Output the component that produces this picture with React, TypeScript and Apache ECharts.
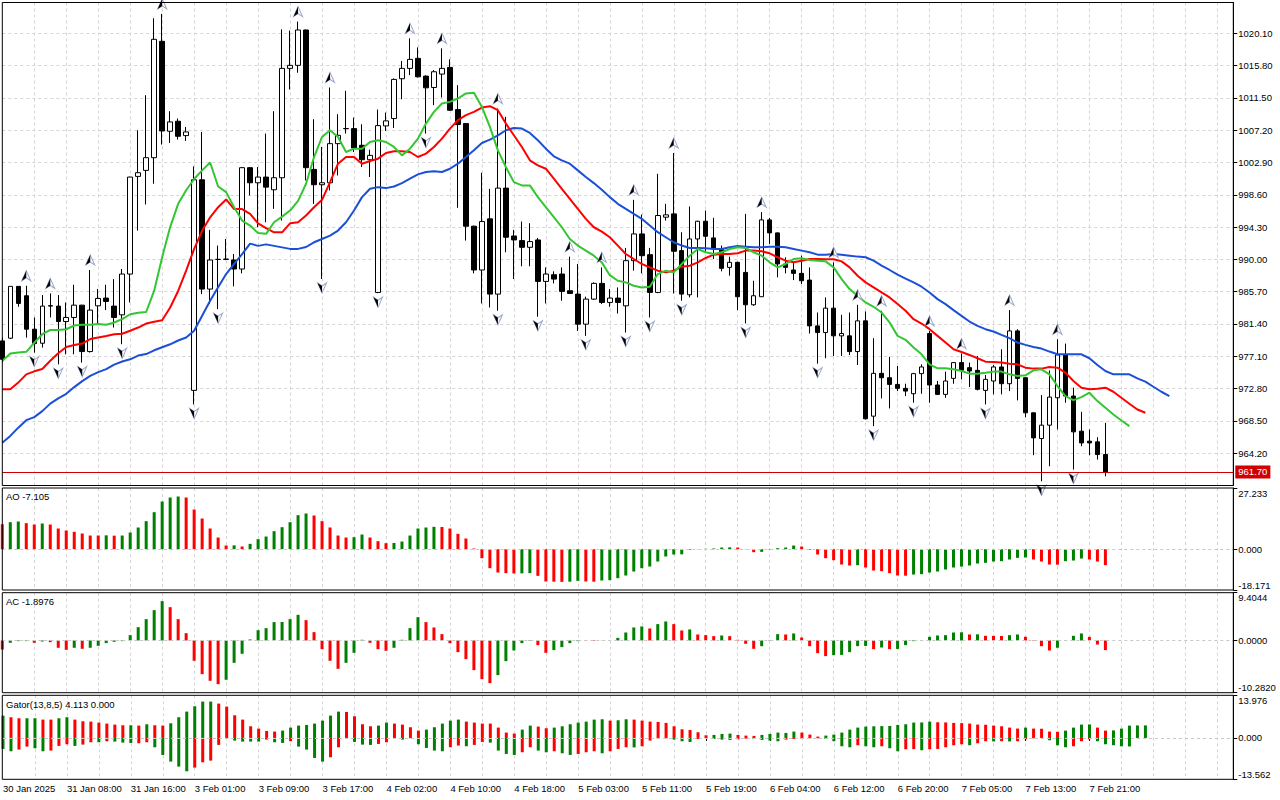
import React, { useEffect, useRef } from "react";
import * as echarts from "echarts";

// ---------- data ----------
const tickLabels = [
  "30 Jan 2025", "31 Jan 08:00", "31 Jan 16:00", "3 Feb 01:00", "3 Feb 09:00", "3 Feb 17:00",
  "4 Feb 02:00", "4 Feb 10:00", "4 Feb 18:00", "5 Feb 03:00", "5 Feb 11:00", "5 Feb 19:00",
  "6 Feb 04:00", "6 Feb 12:00", "6 Feb 20:00", "7 Feb 05:00", "7 Feb 13:00", "7 Feb 21:00",
];

const openPrices = [
  979.15, 979.51, 986.41, 985.16, 980.71, 978.84, 983.78, 983.78, 981.73, 982.27,
  983.91, 977.73, 983.82, 984.85, 983.78, 982.62, 988.05, 1001.05, 1001.85, 1003.54,
  1019.03, 1007.06, 1008.39, 1006.48, 972.56, 1000.6, 986.05, 990.0, 990.0, 989.92,
  988.72, 1002.21, 1000.2, 1000.96, 999.27, 1000.87, 1015.43, 1015.83, 1020.54, 1001.98,
  999.94, 1000.2, 1005.41, 1007.4, 1007.41, 1005.19, 1003.27, 985.6, 1007.77, 1008.75,
  1014.05, 1015.43, 1016.76, 1014.4, 1012.89, 1014.67, 1015.56, 1009.95, 1008.08, 994.42,
  988.59, 995.4, 985.38, 999.49, 993.12, 992.5, 991.61, 992.59, 987.07, 987.96,
  988.05, 985.83, 985.38, 981.38, 984.71, 986.81, 984.27, 984.85, 983.82, 989.83,
  993.39, 990.63, 985.6, 995.62, 996.06, 991.17, 985.29, 992.72, 995.08, 992.86,
  991.39, 988.94, 989.61, 988.27, 983.96, 985.03, 995.26, 993.53, 989.39, 988.59,
  988.14, 987.25, 981.15, 980.26, 983.51, 979.82, 979.82, 977.73, 981.82, 969.13,
  974.83, 974.25, 973.36, 972.83, 972.12, 974.79, 980.13, 973.28, 972.03, 974.16,
  976.26, 975.59, 975.23, 972.56, 973.81, 975.68, 973.45, 980.48, 974.25, 969.58,
  966.15, 967.93, 971.58, 977.28, 971.81, 967.13, 965.8, 965.71, 964.02,
];
const closePrices = [
  976.7, 986.41, 984.14, 980.71, 978.79, 983.78, 983.85, 981.73, 982.27, 983.91,
  977.73, 983.25, 984.8, 984.4, 982.27, 988.05, 1000.96, 1001.54, 1003.54, 1019.3,
  1007.1, 1008.3, 1006.39, 1006.97, 1000.6, 986.05, 989.92, 990.0, 990.05, 988.72,
  1002.21, 1000.2, 1000.96, 999.62, 1000.87, 1015.43, 1015.83, 1020.54, 1002.21, 999.94,
  1000.2, 1005.41, 1006.52, 1007.42, 1004.83, 1003.27, 1003.85, 1007.81, 1008.44, 1013.96,
  1015.43, 1016.63, 1014.31, 1012.84, 1014.98, 1015.43, 1009.86, 1007.95, 994.42, 988.59,
  995.04, 985.38, 999.49, 992.95, 992.59, 991.61, 992.37, 987.07, 988.05, 987.38,
  985.74, 985.47, 981.38, 984.71, 986.81, 984.27, 984.85, 984.27, 989.83, 993.39,
  990.5, 985.6, 995.84, 995.93, 991.08, 985.38, 992.72, 995.08, 993.08, 991.39,
  988.81, 989.61, 985.03, 983.96, 985.16, 995.26, 993.53, 989.39, 988.94, 988.14,
  987.16, 981.15, 980.26, 983.51, 979.82, 980.13, 977.73, 981.82, 968.78, 974.83,
  974.25, 973.36, 972.83, 972.47, 974.79, 975.68, 973.28, 972.03, 973.81, 976.26,
  975.23, 975.14, 972.7, 974.03, 975.68, 973.45, 980.48, 974.16, 969.58, 966.24,
  967.93, 971.67, 977.28, 971.81, 967.04, 965.57, 965.57, 964.02, 961.7,
];
const lowPrices = [
  976.3, 979.4, 983.69, 979.59, 977.59, 978.26, 982.27, 976.03, 977.37, 977.37,
  976.26, 977.6, 981.38, 983.25, 980.93, 978.71, 984.27, 993.84, 997.31, 1000.07,
  1005.28, 1005.5, 1005.95, 1005.77, 970.69, 985.38, 984.05, 983.38, 989.9, 986.41,
  988.14, 998.51, 994.28, 994.95, 996.73, 995.17, 1012.62, 1014.85, 1000.51, 997.4,
  987.4, 999.18, 1001.18, 1006.75, 1004.3, 1002.3, 1000.96, 985.5, 1007.1, 1007.5,
  1011.33, 1014.54, 1014.2, 1006.75, 1010.53, 1011.55, 1009.8, 996.87, 992.5, 988.14,
  984.14, 983.6, 983.16, 990.95, 987.38, 989.08, 989.08, 982.36, 984.14, 986.8,
  984.49, 985.4, 980.48, 979.82, 984.6, 984.05, 983.69, 982.8, 980.26, 988.5,
  988.14, 982.27, 985.5, 995.17, 985.47, 984.49, 984.94, 984.94, 991.08, 990.05,
  988.41, 987.83, 983.25, 981.47, 983.82, 985.0, 992.06, 987.61, 988.14, 987.25,
  986.72, 980.13, 976.12, 976.84, 977.15, 977.15, 977.28, 975.94, 968.69, 967.8,
  971.49, 970.16, 972.47, 971.8, 970.92, 972.12, 970.92, 971.94, 971.58, 973.45,
  974.03, 973.01, 972.56, 970.69, 972.03, 972.03, 972.47, 971.23, 969.0, 963.93,
  960.46, 962.46, 967.36, 970.92, 962.02, 965.13, 963.93, 963.35, 961.12,
];
const highPrices = [
  979.6, 986.41, 986.41, 986.49, 982.27, 985.25, 985.47, 985.25, 984.27, 986.63,
  983.95, 988.59, 986.05, 986.63, 987.38, 988.72, 1001.0, 1007.19, 1011.86, 1022.1,
  1022.68, 1009.73, 1008.75, 1007.64, 1002.38, 1006.97, 993.93, 991.84, 992.72, 990.72,
  1002.3, 1002.3, 1002.3, 1006.75, 1009.73, 1020.63, 1020.46, 1021.66, 1020.6, 1008.66,
  1004.97, 1012.89, 1009.33, 1012.44, 1008.88, 1007.99, 1004.61, 1009.95, 1009.55, 1014.09,
  1016.4, 1019.43, 1018.23, 1014.5, 1015.2, 1018.1, 1016.63, 1013.2, 1008.1, 994.5,
  1001.54, 999.4, 1010.08, 1008.97, 993.93, 995.04, 994.82, 992.86, 988.94, 988.41,
  988.94, 990.37, 989.39, 985.03, 986.94, 988.94, 986.05, 986.27, 991.53, 997.93,
  995.97, 991.53, 1001.4, 997.4, 1004.16, 993.62, 997.04, 995.15, 996.51, 995.53,
  991.84, 990.37, 989.7, 996.06, 987.16, 996.29, 995.53, 993.6, 990.28, 989.61,
  990.5, 988.94, 982.93, 984.94, 989.61, 982.62, 982.93, 983.96, 983.07, 979.51,
  983.16, 977.02, 975.81, 973.45, 974.9, 976.03, 980.48, 973.81, 975.06, 976.3,
  977.46, 976.26, 977.15, 974.61, 975.94, 978.04, 983.25, 980.71, 974.3, 969.6,
  971.94, 975.23, 979.37, 978.79, 972.92, 969.71, 967.36, 966.33, 968.24,
];

// Alligator lines (already shifted forward as drawn)
const lipsLine = [
  976.48, 977.46, 977.6, 977.7, 978.9, 980.04, 980.6, 980.6, 980.7, 981.2,
  981.3, 981.3, 981.4, 981.3, 981.6, 982.04, 982.7, 982.9, 983.0, 985.83,
  990.3, 994.3, 997.4, 999.2, 1000.7, 1001.85, 1002.9, 999.7, 998.96, 996.95,
  995.17, 994.5, 993.5, 993.4, 994.95, 995.7, 996.5, 997.8, 1000.07, 1003.63,
  1006.3, 1007.2, 1006.3, 1004.3, 1004.74, 1004.74, 1005.63, 1005.86, 1005.63, 1004.97,
  1003.85, 1004.74, 1006.08, 1008.08, 1009.64, 1010.75, 1010.97, 1011.42, 1012.09, 1012.18,
  1010.3, 1007.64, 1004.52, 1002.3, 1000.29, 999.85, 999.85, 998.29, 996.95, 995.62,
  994.28, 992.72, 991.84, 991.17, 990.5, 989.6, 987.9, 987.16, 986.94, 986.49,
  986.27, 986.36, 988.05, 988.5, 988.27, 989.39, 990.5, 991.39, 990.95, 990.72,
  990.95, 991.39, 991.61, 991.52, 990.95, 990.5, 989.61, 988.94, 989.39, 990.05,
  990.14, 989.92, 989.83, 989.74, 988.94, 987.38, 986.05, 985.16, 984.27, 983.69,
  982.93, 981.6, 979.82, 979.3, 978.26, 977.37, 976.03, 975.5, 975.5, 975.37,
  975.14, 974.79, 974.79, 974.92, 975.06, 975.06, 974.7, 974.48, 974.57, 975.23,
  975.37, 974.7, 973.14, 971.81, 971.27, 971.67, 972.25, 971.14, 970.25, 969.36,
  968.56, 967.8,
];
const teethLine = [
  972.7, 972.7, 973.6, 974.7, 975.1, 975.4, 976.5, 977.5, 978.35, 978.6,
  978.8, 979.4, 979.6, 979.8, 980.04, 980.1, 980.5, 980.93, 981.46, 981.7,
  981.9, 983.6, 985.8, 988.5, 991.4, 993.8, 995.6, 996.95, 997.98, 996.7,
  996.7, 996.06, 994.8, 994.15, 993.6, 993.6, 994.8, 994.95, 995.84, 996.95,
  997.93, 1000.29, 1002.74, 1003.63, 1003.63, 1002.74, 1003.1, 1003.41, 1004.16, 1004.39,
  1004.39, 1004.3, 1003.63, 1004.08, 1004.97, 1006.08, 1007.41, 1008.53, 1009.2, 1009.64,
  1010.22, 1010.4, 1009.86, 1008.08, 1006.52, 1004.97, 1003.19, 1002.52, 1002.07, 1000.74,
  999.4, 998.07, 996.73, 995.4, 994.28, 993.7, 992.95, 991.84, 990.72, 990.05,
  989.39, 988.94, 988.5, 988.27, 988.5, 989.03, 989.16, 989.61, 990.19, 990.63,
  990.72, 990.72, 990.81, 991.17, 991.17, 991.08, 990.81, 990.28, 989.83, 989.61,
  989.83, 990.05, 990.05, 990.01, 990.01, 989.74, 988.94, 987.83, 986.94, 986.27,
  985.6, 984.94, 984.05, 983.16, 982.04, 981.46, 980.71, 979.82, 978.93, 978.04,
  977.68, 977.28, 976.84, 976.39, 976.35, 976.26, 976.12, 976.03, 975.59, 975.46,
  975.46, 975.68, 975.59, 974.92, 973.81, 972.92, 972.7, 972.79, 972.92, 972.38,
  971.58, 970.78, 970.02, 969.58,
];
const jawLine = [
  965.6, 966.5, 967.6, 968.6, 969.0, 969.8, 970.8, 971.5, 972.1, 973.0,
  973.8, 974.5, 975.0, 975.4, 976.0, 976.4, 976.7, 977.2, 977.4, 977.9,
  978.3, 978.7, 979.2, 979.6, 980.5, 982.5, 984.5, 986.3, 988.05, 989.4,
  990.7, 992.1, 991.8, 992.0, 991.8, 991.6, 991.4, 991.4, 991.65, 992.28,
  992.72, 993.17, 993.84, 994.95, 996.51, 998.29, 999.4, 999.62, 999.49, 999.71,
  1000.16, 1000.74, 1001.32, 1001.63, 1001.72, 1001.63, 1002.07, 1002.74, 1003.63, 1004.52,
  1005.5, 1005.94, 1006.52, 1007.19, 1007.5, 1007.41, 1006.83, 1005.86, 1004.74, 1003.72,
  1003.19, 1002.74, 1001.85, 1000.96, 1000.16, 999.27, 998.29, 997.4, 996.73, 996.06,
  995.4, 994.5, 993.62, 992.95, 992.28, 991.84, 991.52, 991.52, 991.48, 991.39,
  991.39, 991.61, 991.79, 991.7, 991.61, 991.61, 991.7, 991.7, 991.61, 991.39,
  991.17, 990.95, 990.63, 990.63, 990.72, 990.63, 990.5, 990.37, 990.28, 989.83,
  989.16, 988.59, 987.96, 987.45, 986.94, 986.36, 985.6, 984.71, 984.05, 983.25,
  982.49, 981.73, 981.15, 980.71, 980.4, 979.95, 979.51, 978.93, 978.62, 978.35,
  978.13, 977.73, 977.37, 977.37, 977.37, 977.37, 976.84, 975.94, 975.14, 974.7,
  974.7, 974.7, 974.16, 973.72, 973.05, 972.38, 971.81,
];

const upFractals = [3, 6, 11, 20, 37, 41, 51, 55, 62, 71, 75, 79, 84, 95, 104, 107, 110, 116, 120, 126, 132];
const downFractals = [4, 7, 10, 15, 24, 27, 40, 47, 53, 62, 67, 73, 78, 81, 85, 93, 102, 109, 114, 123, 130, 134];

const aoValues = [
  11.13, 12.02, 12.32, 11.58, 10.98, 11.43, 10.98, 9.2, 8.31, 7.72,
  6.97, 6.08, 6.08, 6.16, 6.01, 6.08, 7.42, 9.65, 12.47, 16.47,
  21.22, 23.0, 23.45, 23.0, 17.66, 13.65, 9.2, 5.19, 1.63, 1.71,
  1.19, 2.37, 4.45, 5.64, 8.01, 9.79, 12.02, 15.14, 15.88, 14.99,
  12.47, 9.65, 6.08, 5.19, 5.34, 6.53, 5.19, 3.56, 2.67, 2.75,
  3.41, 6.08, 9.2, 9.65, 9.94, 9.87, 9.2, 6.83, 4.75, 0.3,
  -4.01, -8.46, -10.39, -10.68, -10.83, -10.76, -10.68, -11.87, -14.39, -14.47,
  -14.54, -14.47, -14.1, -14.39, -14.47, -13.95, -13.8, -12.91, -11.72, -9.94,
  -8.46, -7.72, -5.49, -3.26, -2.37, -2.3, -0.3, 0.07, 0.15, 0.3,
  0.74, 0.82, 0.74, 0.07, -1.34, -1.19, -0.15, 0.45, 0.74, 1.63,
  1.19, -0.3, -2.37, -4.01, -4.9, -6.83, -7.27, -7.12, -8.16, -9.5,
  -9.79, -10.68, -11.72, -11.8, -11.28, -11.13, -10.39, -9.94, -9.05, -8.16,
  -7.72, -7.27, -6.38, -6.08, -5.49, -5.34, -4.6, -3.86, -3.71, -4.6,
  -5.49, -6.83, -6.9, -5.34, -5.05, -4.16, -4.6, -5.49, -7.105,
];
const aoColors =
  "rggrrgrrrr" + "rrrgrggggg" + "gggrrrrrrg" + "rggggggggr" + "rrrrggrrrg" +
  "gggggrrrrr" + "rrrrrggrrr" + "rggrrggggg" + "gggggggggg" + "ggrrrggggg" +
  "rrrrrrrgrr" + "rrrrgggggg" + "gggggggggr" + "rrrgggrrr";

const acValues = [
  -1.77, -0.46, -0.13, -0.12, -0.46, -0.2, -0.33, -1.44, -1.84, -1.44,
  -1.64, -1.44, -1.05, -0.52, -0.26, -0.13, 1.05, 2.62, 4.2, 5.97,
  7.74, 6.56, 4.2, 1.44, -4.0, -6.63, -7.94, -8.6, -7.74, -4.4,
  -2.62, 0.2, 2.03, 2.43, 3.61, 3.64, 4.2, 5.05, 4.0, 1.64,
  -1.71, -4.0, -5.58, -4.4, -2.43, 0.13, -0.46, -1.71, -2.03, -1.44,
  0.13, 2.43, 4.59, 3.61, 2.56, 1.25, -0.52, -2.3, -3.67, -5.84,
  -7.61, -8.4, -6.82, -4.07, -1.97, -0.52, 0.1, -0.92, -2.43, -1.9,
  -1.31, -0.52, -0.13, -0.07, -0.1, 0.03, 0.02, 0.52, 1.57, 2.56,
  2.76, 2.36, 3.22, 3.74, 3.22, 1.97, 2.17, 1.18, 1.05, 0.85,
  0.98, 0.85, 0.13, -0.66, -1.64, -1.12, -0.07, 1.25, 1.18,
  1.38, 0.59, -1.12, -2.49, -3.08, -2.89, -2.85, -2.3, -1.12, -1.08,
  -1.71, -1.38, -1.71, -1.67, -0.92, -0.13, -0.07, 0.72, 0.98, 1.05,
  1.57, 1.61, 1.18, 1.21, 0.92, 0.91, 0.89, 1.05, 1.18, 0.72,
  -0.07, -1.12, -1.97, -1.44, 0.07, 0.92, 1.38, 0.72, -0.79, -1.8976,
];
const acColors =
  "rgggrgrrrg" + "rggggggggg" + "grrrrrrrgg" + "ggggggggrr" + "rrrgggrrrg" +
  "gggrrrrrrr" + "rrgggggrrg" + "gggrrgrggg" + "grggrrgrrr" + "grrrrgggr" +
  "grrrrggggg" + "rgrggggggg" + "ggrgrrrggr" + "rrrggggrrr";

const gatorUpper = [
  7.32, 6.78, 6.45, 6.45, 6.45, 6.01, 6.01, 6.45, 6.78, 6.01,
  5.46, 5.35, 5.03, 4.7, 4.37, 4.15, 4.15, 4.04, 4.48, 4.15,
  4.04, 4.81, 6.78, 8.63, 10.38, 11.91, 11.91, 11.26, 10.27, 7.43,
  6.01, 3.82, 3.06, 2.29, 2.08, 2.4, 3.39, 4.04, 4.26, 4.7,
  5.68, 7.32, 8.63, 8.52, 7.1, 4.48, 3.82, 4.04, 5.03, 4.7,
  4.37, 3.5, 2.4, 2.73, 3.5, 4.7, 5.68, 6.01, 5.35, 5.03,
  4.7, 4.7, 3.39, 1.75, 1.42, 2.73, 4.04, 3.72, 3.17, 3.39,
  3.82, 4.48, 5.03, 5.35, 6.01, 6.12, 5.68, 5.79, 6.12, 6.01,
  5.68, 5.35, 5.25, 4.92, 3.82, 2.84, 2.62, 1.86, 0.87, 0.98,
  1.31, 1.42, 0.98, 0.76, 0.66, 0.98, 1.31, 1.75, 1.64,
  2.08, 1.75, 1.09, 0.44, 0.76, 1.09, 1.75, 2.73, 3.39, 3.72,
  3.82, 3.88, 3.93, 4.26, 4.48, 5.03, 5.08, 5.35, 5.14, 5.08,
  4.92, 4.86, 4.7, 4.37, 4.32, 4.04, 3.82, 3.39, 3.06, 3.39,
  3.06, 3.01, 2.08, 2.02, 2.4, 3.39, 4.37, 4.43, 3.39, 2.4,
  2.46, 3.06, 4.04, 4.1, 4.113,
];
const gatorUpperColors =
  "grrggrrggr" + "rrrrrrgrgr" + "rggggggrrr" + "rrrrrggggg" + "gggrrrrggr" +
  "rrrgggggrr" + "rrrrrggrrg" + "ggggggrggr" + "rrrrrrrrrg" + "ggrrrgggg" +
  "grrrgggggg" + "ggggggggrr" + "rrrrrrrrrg" + "rrrrggggrr" + "ggggg";

const gatorLower = [
  -3.61, -4.37, -3.82, -2.84, -3.39, -4.37, -4.15, -2.62, -2.08, -2.62,
  -2.19, -1.42, -1.42, -1.09, -1.2, -1.53, -1.64, -1.75, -1.42, -3.06,
  -5.57, -7.76, -9.4, -10.93, -9.73, -7.98, -7.43, -2.29, -0.33, -0.87,
  -1.2, -1.2, -1.2, -0.55, -1.42, -1.64, -1.09, -2.84, -3.82, -6.56,
  -7.76, -6.34, -3.06, -0.33, -1.31, -2.19, -2.29, -1.97, -1.42, -0.33,
  -0.55, -0.11, -2.08, -3.28, -4.15, -4.37, -3.06, -2.51, -2.73, -2.29,
  -1.31, -1.53, -4.15, -5.25, -5.57, -4.7, -3.06, -4.15, -4.7, -4.37,
  -5.03, -5.57, -5.25, -4.7, -4.37, -5.03, -4.37, -3.61, -3.06, -3.11,
  -2.73, -0.87, -0.22, -0.11, -0.55, -1.09, -1.31, -0.33, -0.11, -0.33,
  -0.55, -0.66, -0.44, -0.22, -0.33, -0.66, -0.87, -1.09, -0.55,
  -0.33, -0.22, -0.11, -0.11, -0.33, -1.09, -2.73, -3.06, -2.4, -2.73,
  -3.06, -2.73, -3.39, -4.37, -3.72, -3.66, -4.04, -3.72, -3.61, -3.06,
  -2.4, -2.08, -2.4, -1.75, -1.09, -1.15, -1.09, -1.15, -1.09, -0.44,
  -0.11, -0.05, -0.76, -2.4, -3.06, -2.73, -1.09, -0.44, -1.09, -2.08,
  -2.4, -2.73, -2.79, -0.05, 0,
];
const gatorLowerColors =
  "ggrrggrrrg" + "rrgrgggrrg" + "ggggrrrrrg" + "gggrggrggg" + "grrrgggrrr" +
  "grggggrrgr" + "rggggrrggr" + "ggrrrgrrrg" + "rrrrgggrrg" + "ggrrggggr" +
  "rrrrggggrg" + "grggrrgrrr" + "rrgrrgrgrr" + "rrgggrrrgg" + "gggrr";

const priceAxis = { min: 959.9, max: 1024.2, step: 4.3 };
const aoAxisLabels = [-18.171, 0, 27.233];
const acAxisLabels = [-10.282, 0, 9.4044];
const gatorAxisLabels = [-13.562, 0, 13.976];

// ---------- styling ----------
const SLOTS = 155;
const FONT = '"Liberation Sans", Arial, sans-serif';
const GREEN = "#008000";
const RED = "#ff0000";
const GRID_LINE = "#d4d4d4";
const UP_ARROW = "path://M5,0 L10,10 L5,7 L0,10 Z";
const UP_ARROW_HALF = "path://M5,0 L5,7 L0,10 Z";
const DOWN_ARROW = "path://M0,0 L5,3 L10,0 L5,10 Z";
const DOWN_ARROW_HALF = "path://M0,0 L5,3 L5,10 Z";

function colored(values: number[], codes: string) {
  return values.map((v, i) => ({ value: v, itemStyle: { color: codes[i] === "g" ? GREEN : RED } }));
}

export default function App() {
  const ref = useRef<HTMLDivElement>(null);

  useEffect(() => {
    if (!ref.current) return;
    const chart = echarts.init(ref.current, null, { renderer: "svg" });
    const categories = Array.from({ length: SLOTS }, (_, i) => String(i));
    const labelEvery = (i: number) => i % 8 === 0 && i / 8 < tickLabels.length;
    const left = 2.3;
    const width = 1231;
    const gridBoxes = [
      { top: 2.5, height: 483 },
      { top: 488, height: 102 },
      { top: 592.7, height: 100 },
      { top: 695.3, height: 84 },
    ];
    const grid = gridBoxes.map((g) => ({
      left, width, top: g.top, height: g.height,
      show: true, borderWidth: 0, backgroundColor: "#fff",
    }));
    const xAxis = gridBoxes.map((_, gi) => ({
      type: "category",
      gridIndex: gi,
      data: categories,
      boundaryGap: false,
      axisLine: { show: false },
      axisTick: { show: gi === 3, interval: labelEvery, length: 3, lineStyle: { color: "#000" } },
      axisLabel: {
        show: gi === 3,
        interval: labelEvery,
        formatter: (v: string) => tickLabels[Number(v) / 8] ?? "",
        align: "left",
        margin: 4,
        color: "#000",
        fontSize: 9.5,
        fontFamily: FONT,
      },
      splitLine: {
        show: true,
        interval: (i: number) => i % 4 === 0 && i > 0,
        lineStyle: { color: GRID_LINE, type: [3, 3], width: 1 },
      },
    }));

    const axisCommon = {
      type: "value",
      position: "right",
      axisLine: { show: true, lineStyle: { color: "#000" } },
    };
    const labelCommon = { color: "#000", fontSize: 9.5, fontFamily: FONT, margin: 5 };
    const indicatorAxis = (gi: number, vals: number[], digits: number) => ({
      ...axisCommon,
      gridIndex: gi,
      min: vals[0],
      max: vals[2],
      axisTick: { show: true, length: 4, customValues: vals, lineStyle: { color: "#000" } },
      axisLabel: {
        ...labelCommon,
        customValues: vals,
        formatter: (v: number) => v.toFixed(digits),
        verticalAlignMinLabel: "bottom",
        verticalAlignMaxLabel: "top",
      },
      splitLine: { show: false },
    });
    const yAxis = [
      {
        ...axisCommon,
        gridIndex: 0,
        min: priceAxis.min,
        max: priceAxis.max,
        interval: priceAxis.step,
        axisTick: { show: true, length: 4, lineStyle: { color: "#000" } },
        axisLabel: {
          ...labelCommon,
          formatter: (v: number) => v.toFixed(2),
          showMinLabel: false,
          showMaxLabel: false,
        },
        splitLine: { show: true, lineStyle: { color: GRID_LINE, type: [3, 3], width: 1 } },
      },
      indicatorAxis(1, aoAxisLabels, 3),
      indicatorAxis(2, acAxisLabels, 4),
      indicatorAxis(3, gatorAxisLabels, 3),
    ];

    const zeroLine = {
      silent: true,
      symbol: "none",
      data: [{ yAxis: 0 }],
      lineStyle: { color: "#c8c8c8", type: [3, 3], width: 1 },
      label: { show: false },
    };
    const lastClose = closePrices[closePrices.length - 1];

    const fractalSeries = (
      idx: number[], prices: number[], full: string, half: string, dy: number,
    ) => [
      {
        type: "scatter", xAxisIndex: 0, yAxisIndex: 0, z: 4, silent: true,
        data: idx.map((k) => [k, prices[k]]),
        symbol: full, symbolSize: [9, 10], symbolOffset: [0, dy],
        itemStyle: { color: "#ffffff", borderColor: "#9aa6cc", borderWidth: 1, opacity: 1 },
      },
      {
        type: "scatter", xAxisIndex: 0, yAxisIndex: 0, z: 5, silent: true,
        data: idx.map((k) => [k, prices[k]]),
        symbol: half, symbolSize: [4.5, 10], symbolOffset: [-2.25, dy],
        itemStyle: { color: "#000000", opacity: 1 },
      },
    ];

    const series: any[] = [
      {
        type: "candlestick",
        xAxisIndex: 0,
        yAxisIndex: 0,
        barWidth: 5,
        data: openPrices.map((o, i) => [o, closePrices[i], lowPrices[i], highPrices[i]]),
        itemStyle: {
          color: "#ffffff",
          color0: "#000000",
          borderColor: "#000000",
          borderColor0: "#000000",
          borderColorDoji: "#000000",
          borderWidth: 1,
        },
        markLine: {
          silent: true,
          symbol: "none",
          data: [{ yAxis: lastClose }],
          lineStyle: { color: "#c80000", type: "solid", width: 1 },
          label: {
            position: "end",
            distance: 2,
            formatter: () => lastClose.toFixed(2),
            color: "#ffffff",
            backgroundColor: "#d00000",
            padding: [2, 3, 1, 3],
            fontSize: 9.5,
            fontFamily: FONT,
          },
        },
      },
      {
        type: "line", xAxisIndex: 0, yAxisIndex: 0, data: jawLine, showSymbol: false, symbol: "none",
        lineStyle: { color: "#1a4fd6", width: 2 }, silent: true,
      },
      {
        type: "line", xAxisIndex: 0, yAxisIndex: 0, data: teethLine, showSymbol: false, symbol: "none",
        lineStyle: { color: "#ff0000", width: 2 }, silent: true,
      },
      {
        type: "line", xAxisIndex: 0, yAxisIndex: 0, data: lipsLine, showSymbol: false, symbol: "none",
        lineStyle: { color: "#33c633", width: 2 }, silent: true,
      },
      ...fractalSeries(upFractals, highPrices, UP_ARROW, UP_ARROW_HALF, -10),
      ...fractalSeries(downFractals, lowPrices, DOWN_ARROW, DOWN_ARROW_HALF, 9),
      {
        type: "bar", xAxisIndex: 1, yAxisIndex: 1, barWidth: 3,
        data: colored(aoValues, aoColors), markLine: zeroLine,
      },
      {
        type: "bar", xAxisIndex: 2, yAxisIndex: 2, barWidth: 3,
        data: colored(acValues, acColors), markLine: zeroLine,
      },
      {
        type: "bar", xAxisIndex: 3, yAxisIndex: 3, barWidth: 3, barGap: "-100%",
        data: colored(gatorUpper, gatorUpperColors), markLine: zeroLine,
      },
      {
        type: "bar", xAxisIndex: 3, yAxisIndex: 3, barWidth: 3, barGap: "-100%",
        data: colored(gatorLower, gatorLowerColors),
      },
    ];

    const lastAo = aoValues[aoValues.length - 1];
    const lastAc = acValues[acValues.length - 1];
    const lastUp = gatorUpper[gatorUpper.length - 1];
    const lastLow = gatorLower[gatorLower.length - 1];
    const titleStyle = { fill: "#000", fontSize: 9.5, fontFamily: FONT, verticalAlign: "middle" };

    const frames = gridBoxes.map((g) => ({
      type: "rect",
      z: 50,
      silent: true,
      shape: { x: left, y: g.top, width, height: g.height },
      style: { fill: "none", stroke: "#000", lineWidth: 1 },
    }));

    chart.setOption({
      animation: false,
      backgroundColor: "#ffffff",
      grid,
      xAxis,
      yAxis,
      series,
      graphic: [
        ...frames,
        { type: "text", x: 6, y: 496, z: 60, style: { ...titleStyle, text: `AO ${lastAo.toFixed(3)}` } },
        { type: "text", x: 6, y: 601, z: 60, style: { ...titleStyle, text: `AC ${lastAc.toFixed(4)}` } },
        {
          type: "text", x: 6, y: 704, z: 60,
          style: { ...titleStyle, text: `Gator(13,8,5) ${lastUp.toFixed(3)} ${Math.abs(lastLow).toFixed(3)}` },
        },
      ],
    });

    return () => chart.dispose();
  }, []);

  return (
    <div
      ref={ref}
      style={{ position: "fixed", left: 0, top: 0, width: 1280, height: 800, background: "#fff" }}
    />
  );
}
